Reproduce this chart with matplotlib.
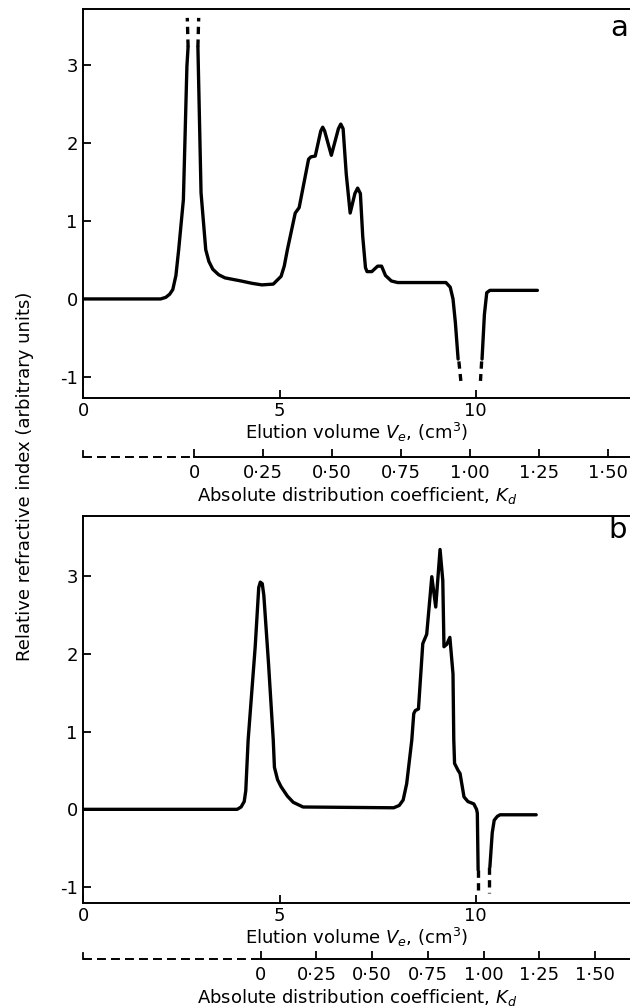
import matplotlib
matplotlib.use('Agg')
import matplotlib.pyplot as plt
import numpy as np

plt.rcParams['font.family'] = ['DejaVu Sans']
plt.rcParams['mathtext.fontset'] = 'dejavusans'

nan = np.nan

# ---------------- data: panel a ----------------
a_ve = [0, 1.97, 2.1, 2.2, 2.28, 2.36, 2.43, 2.55, 2.64, 2.67,
        nan,
        2.92, 3.0, 3.12, 3.2, 3.3, 3.45, 3.61, 4.02, 4.3, 4.55, 4.84, 5.04, 5.12, 5.2,
        5.4, 5.5, 5.74, 5.8, 5.91, 6.05, 6.1, 6.15, 6.32, 6.5, 6.56, 6.62,
        6.7, 6.8, 6.92, 6.99, 7.06, 7.12, 7.19, 7.23, 7.35, 7.5, 7.6, 7.7, 7.85, 8.01,
        9.24, 9.35, 9.42, 9.48, 9.55,
        nan,
        10.16, 10.22, 10.28, 10.36, 11.57]
a_ri = [0, 0, 0.02, 0.06, 0.12, 0.3, 0.63, 1.27, 2.98, 3.23,
        nan,
        3.23, 1.36, 0.63, 0.48, 0.38, 0.31, 0.27, 0.23, 0.2, 0.18, 0.19, 0.29, 0.42, 0.63,
        1.10, 1.17, 1.79, 1.82, 1.83, 2.15, 2.2, 2.15, 1.84, 2.18, 2.24, 2.18,
        1.6, 1.1, 1.35, 1.42, 1.35, 0.8, 0.4, 0.35, 0.35, 0.42, 0.42, 0.3, 0.23, 0.21,
        0.21, 0.15, 0.0, -0.3, -0.77,
        nan,
        -0.77, -0.2, 0.08, 0.11, 0.11]
# dashed continuations where the trace leaves the scale
a_break_ve = [[2.67, 2.65], [2.92, 2.94], [9.57, 9.62], [10.15, 10.12]]
a_break_ri = [[3.23, 3.6], [3.23, 3.6], [-0.8, -1.05], [-0.8, -1.05]]

# ---------------- data: panel b ----------------
b_ve = [0, 3.92, 4.02, 4.1, 4.14, 4.2, 4.38, 4.47, 4.51, 4.56, 4.6, 4.72, 4.84, 4.87,
        4.95, 5.04, 5.2, 5.35, 5.6, 7.91, 8.05, 8.15, 8.24, 8.37, 8.42, 8.46, 8.54,
        8.65, 8.75, 8.88, 8.98, 9.09, 9.16, 9.19, 9.26, 9.34, 9.42, 9.44, 9.46, 9.55,
        9.6, 9.7, 9.8, 9.95, 10.02, 10.04, 10.06,
        nan,
        10.36, 10.42, 10.47, 10.55, 10.62, 11.54]
b_ri = [0, 0, 0.03, 0.1, 0.24, 0.89, 2.09, 2.85, 2.92, 2.9, 2.75, 1.87, 0.89, 0.54,
        0.38, 0.29, 0.17, 0.09, 0.03, 0.02, 0.05, 0.12, 0.33, 0.89, 1.23, 1.27, 1.29,
        2.13, 2.25, 2.99, 2.6, 3.34, 2.94, 2.09, 2.12, 2.21, 1.74, 0.89, 0.59, 0.5,
        0.46, 0.16, 0.1, 0.07, 0.0, -0.05, -0.78,
        nan,
        -0.74, -0.3, -0.14, -0.09, -0.07, -0.07]
b_break_ve = [[10.06, 10.06], [10.35, 10.35]]
b_break_ri = [[-0.78, -1.08], [-0.74, -1.08]]

# ---------------- axis scales ----------------
ve_ticks = [0, 5, 10]
ve_labels = ['0', '5', '10']
ri_ticks = [-1, 0, 1, 2, 3]
ri_labels = ['-1', '0', '1', '2', '3']
kd_ticks = [0, 0.25, 0.5, 0.75, 1.0, 1.25, 1.5]
kd_labels = ['0', '0·25', '0·50', '0·75', '1·00', '1·25', '1·50']
# void volume V0 and total volume Vt (Kd = (Ve - V0)/(Vt - V0))
a_v0, a_vt = 2.83, 9.85
b_v0, b_vt = 4.52, 10.20

VE_MAX = 13.93

W, H = 630, 1008
fig = plt.figure(figsize=(W / 100, H / 100), dpi=100)


def px_axes(left, top, right, bottom):
    return [left / W, 1 - bottom / H, (right - left) / W, (bottom - top) / H]


ax_a = fig.add_axes(px_axes(83.3, 9.3, 630, 397.7))
ax_b = fig.add_axes(px_axes(83.3, 516, 630, 902.7))


def draw_panel(ax, ve, ri, brk_ve, brk_ri, ylim, v0, vt, loc, hpx):
    ax.plot(ve, ri, color='k', lw=2.4, solid_joinstyle='round',
            solid_capstyle='round')
    for bv, br in zip(brk_ve, brk_ri):
        ax.plot(bv, br, color='k', lw=2.4, ls=(0, (2.2, 1.6)))
    ax.set_xlim(0, VE_MAX)
    ax.set_ylim(*ylim)
    ax.spines['right'].set_visible(False)
    for s in ['left', 'top', 'bottom']:
        ax.spines[s].set_linewidth(1.4)
    ax.set_xticks(ve_ticks, labels=ve_labels)
    ax.set_yticks(ri_ticks, labels=ri_labels)
    ax.tick_params(axis='both', direction='in', length=6, width=1.3,
                   labelsize=13, pad=4)
    ax.tick_params(axis='x', pad=3)
    ax.set_xlabel(r'Elution volume $V_e$, (cm$^3$)', fontsize=13, labelpad=1)

    fwd = lambda v: (v - v0) / (vt - v0)
    inv = lambda k: v0 + k * (vt - v0)
    sec = ax.secondary_xaxis(loc, functions=(fwd, inv))
    sec.set_ticks(kd_ticks, labels=kd_labels)
    sec.tick_params(direction='in', length=6, width=1.3, labelsize=13, pad=5)
    sec.spines['bottom'].set_linewidth(1.4)
    sec.spines['bottom'].set_bounds(0, fwd(VE_MAX))
    sec.set_xlabel(r'Absolute distribution coefficient, $K_d$', fontsize=13,
                   labelpad=2)
    tr = ax.get_xaxis_transform()
    ax.plot([0, v0], [loc, loc], transform=tr, clip_on=False, color='k',
            lw=1.4, ls=(0, (4.6, 2.6)))
    ax.plot([0, 0], [loc, loc + 6 / hpx], transform=tr, clip_on=False,
            color='k', lw=1.3)


draw_panel(ax_a, a_ve, a_ri, a_break_ve, a_break_ri, (-1.265, 3.71),
           a_v0, a_vt, -59.3 / 388.4, 388.4)
draw_panel(ax_b, b_ve, b_ri, b_break_ve, b_break_ri, (-1.2, 3.77),
           b_v0, b_vt, -56.3 / 386.7, 386.7)

fig.text(610 / W, 1 - 28 / H, 'a', fontsize=21, va='center', ha='left')
fig.text(608 / W, 1 - 530 / H, 'b', fontsize=21, va='center', ha='left')
fig.text(25 / W, 1 - 476 / H, 'Relative refractive index (arbitrary units)',
         rotation=90, va='center', ha='center', fontsize=13)

fig.savefig('out.png', dpi=100)
